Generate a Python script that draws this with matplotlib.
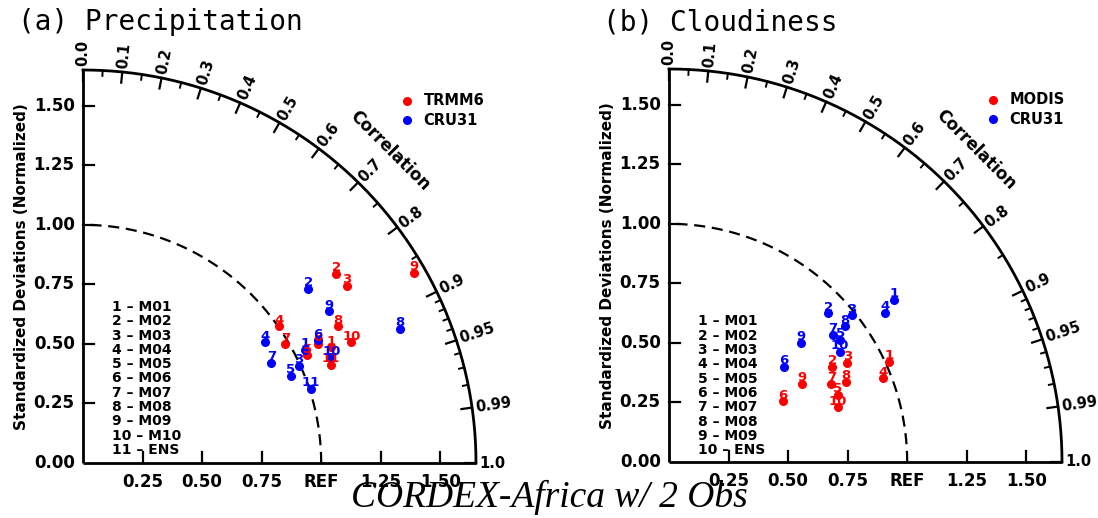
import numpy as np
import matplotlib
matplotlib.use('Agg')
import matplotlib.pyplot as plt

# normalized std dev and correlation
prec_names = ['M01', 'M02', 'M03', 'M04', 'M05', 'M06', 'M07', 'M08', 'M09', 'M10', 'ENS']
prec_trmm_std = [1.150, 1.327, 1.336, 1.005, 1.045, 1.107, 0.985, 1.216, 1.604, 1.235, 1.120]
prec_trmm_cor = [0.906, 0.801, 0.830, 0.820, 0.901, 0.892, 0.862, 0.881, 0.867, 0.912, 0.930]
prec_cru_std = [1.047, 1.195, 0.995, 0.918, 0.947, 1.114, 0.895, 1.446, 1.215, 1.133, 1.007]
prec_cru_cor = [0.891, 0.791, 0.912, 0.833, 0.922, 0.886, 0.883, 0.921, 0.851, 0.920, 0.951]

cld_names = ['M01', 'M02', 'M03', 'M04', 'M05', 'M06', 'M07', 'M08', 'M09', 'ENS']
cld_modis_std = [1.015, 0.793, 0.856, 0.966, 0.764, 0.543, 0.756, 0.816, 0.648, 0.747]
cld_modis_cor = [0.910, 0.864, 0.874, 0.931, 0.929, 0.882, 0.901, 0.911, 0.862, 0.951]
cld_cru_std = [1.165, 0.915, 0.986, 1.103, 0.883, 0.627, 0.872, 0.934, 0.747, 0.854]
cld_cru_cor = [0.811, 0.730, 0.780, 0.823, 0.814, 0.771, 0.790, 0.792, 0.743, 0.841]

cor_major = [0.0, 0.1, 0.2, 0.3, 0.4, 0.5, 0.6, 0.7, 0.8, 0.9, 0.95, 0.99, 1.0]
cor_minor = [0.05, 0.15, 0.25, 0.35, 0.45, 0.55, 0.65, 0.75, 0.85,
             0.91, 0.92, 0.93, 0.94, 0.96, 0.97, 0.98]
std_ticks = [0.25, 0.50, 0.75, 1.00, 1.25, 1.50]

RMAX = 1.65
W, H = 1098, 518
BOLD = dict(fontweight='bold', family='DejaVu Sans')


def taylor(ax, sets, names, obs_labels, legend_y0):
    ax.set_xlim(0, RMAX)
    ax.set_ylim(0, RMAX)
    ax.set_aspect('equal')
    ax.axis('off')
    lw = 2.0
    # axes lines and outer arc
    ax.plot([0, RMAX], [0, 0], color='k', lw=lw, clip_on=False, solid_capstyle='butt')
    ax.plot([0, 0], [0, RMAX], color='k', lw=lw, clip_on=False, solid_capstyle='butt')
    t = np.linspace(0, np.pi / 2, 300)
    ax.plot(RMAX * np.cos(t), RMAX * np.sin(t), color='k', lw=lw, clip_on=False)
    # REF arc
    ax.plot(np.cos(t), np.sin(t), color='k', lw=1.6, ls=(0, (5, 3)), clip_on=False)

    tl = 0.045
    for s in std_ticks:
        ax.plot([0, tl], [s, s], color='k', lw=1.6, clip_on=False)
        ax.text(-0.035, s, '%.2f' % s, ha='right', va='center', fontsize=12, **BOLD)
        if s != 1.0:
            ax.plot([s, s], [0, tl], color='k', lw=1.6, clip_on=False)
    ax.text(-0.035, 0, '0.00', ha='right', va='center', fontsize=12, **BOLD)
    for s in std_ticks:
        lab = 'REF' if s == 1.0 else '%.2f' % s
        ax.text(s, -0.04, lab, ha='center', va='top', fontsize=12, **BOLD)

    for c in cor_major:
        a = np.arccos(c)
        ax.plot([RMAX * c, (RMAX - tl) * c], [RMAX * np.sin(a), (RMAX - tl) * np.sin(a)],
                color='k', lw=1.6, clip_on=False)
        lab = '%.2f' % c if c in (0.95, 0.99) else '%.1f' % c
        r = RMAX + 0.015
        ax.text(r * c, r * np.sin(a), lab, rotation=np.degrees(a), rotation_mode='anchor',
                ha='left', va='center', fontsize=10.5, **BOLD)
    for c in cor_minor:
        a = np.arccos(c)
        ax.plot([RMAX * c, (RMAX - tl / 2) * c], [RMAX * np.sin(a), (RMAX - tl / 2) * np.sin(a)],
                color='k', lw=1.4, clip_on=False)
    a = np.radians(45.5)
    ax.text(1.84 * np.cos(a), 1.84 * np.sin(a), 'Correlation', rotation=-45,
            rotation_mode='anchor', ha='center', va='center', fontsize=12, **BOLD)
    ax.text(-0.26, RMAX / 2, 'Standardized Deviations (Normalized)', rotation=90,
            ha='center', va='center', fontsize=11, **BOLD)

    colors = ['red', 'blue']
    for (std, cor), col in zip(sets, colors):
        std = np.array(std)
        cor = np.array(cor)
        x = std * cor
        y = std * np.sin(np.arccos(cor))
        ax.plot(x, y, 'o', color=col, ms=5.5, mec=col, clip_on=False)
        for i in range(len(x)):
            ax.text(x[i], y[i] + 0.025, str(i + 1), color=col, ha='center', va='center',
                    fontsize=9.5, **BOLD)

    # obs legend
    for k, (lab, col) in enumerate(zip(obs_labels, colors)):
        yy = 1.52 - k * 0.08
        ax.plot([1.36], [yy], 'o', color=col, ms=5.5, clip_on=False)
        ax.text(1.43, yy, lab, ha='left', va='center', fontsize=10.5, **BOLD)

    # model list
    for i, n in enumerate(names):
        ax.text(0.12, legend_y0 - i * 0.06, '%d \u2013 %s' % (i + 1, n), ha='left',
                va='center', fontsize=10, **BOLD)


fig = plt.figure(figsize=(W / 100, H / 100), dpi=100)
ax1 = fig.add_axes([83 / W, (H - 463) / H, 393 / W, 393 / H])
ax2 = fig.add_axes([669 / W, (H - 462) / H, 393 / W, 393 / H])

taylor(ax1, [(prec_trmm_std, prec_trmm_cor), (prec_cru_std, prec_cru_cor)],
       prec_names, ['TRMM6', 'CRU31'], 0.655)
taylor(ax2, [(cld_modis_std, cld_modis_cor), (cld_cru_std, cld_cru_cor)],
       cld_names, ['MODIS', 'CRU31'], 0.59)

fig.text(18 / W, 1 - 22 / H, '(a) Precipitation', family='DejaVu Sans Mono', fontsize=20,
         ha='left', va='center')
fig.text(603 / W, 1 - 22 / H, '(b) Cloudiness', family='DejaVu Sans Mono', fontsize=20,
         ha='left', va='center')
fig.text(549 / W, 1 - 497 / H, 'CORDEX-Africa w/ 2 Obs', family='Liberation Serif',
         style='italic', fontsize=27, ha='center', va='center')

fig.savefig('out.png', dpi=100)
